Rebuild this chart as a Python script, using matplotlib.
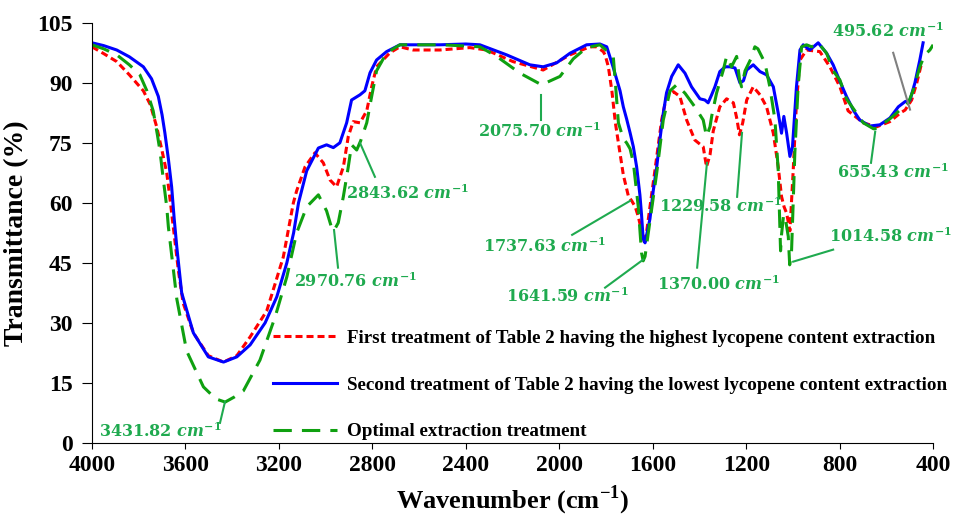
import matplotlib.pyplot as plt

plt.rcParams['mathtext.fontset'] = 'custom'
plt.rcParams['mathtext.it'] = 'DejaVu Serif:italic:bold'
plt.rcParams['mathtext.rm'] = 'DejaVu Serif:bold'

# First treatment (red, short dashes)
wn_first = [4000, 3950, 3894, 3840, 3780, 3750, 3723, 3700, 3680, 3666, 3652, 3630, 3610, 3566,
            3502, 3437, 3380, 3323, 3252, 3215, 3181, 3138, 3124, 3088, 3046, 3010, 2981, 2953,
            2924, 2903, 2882, 2853, 2824, 2803, 2782, 2725, 2682, 2626, 2511, 2383, 2311, 2198,
            2069, 1954, 1869, 1840, 1812, 1804, 1790, 1775, 1760, 1747, 1726, 1704, 1690, 1675,
            1662, 1648, 1638, 1628, 1612, 1591, 1562, 1541, 1512, 1484, 1455, 1420, 1384, 1370,
            1355, 1341, 1313, 1284, 1255, 1240, 1229, 1215, 1198, 1170, 1141, 1113, 1084, 1063,
            1049, 1038, 1027, 1013, 999, 985, 970, 942, 885, 842, 799, 764, 699, 642, 585, 542,
            520, 492, 470, 449]
t_first = [99, 97.3, 95.3, 92, 88, 84.5, 79, 73, 67.5, 61, 54, 43, 35, 27.5,
           21.8, 20.2, 21.8, 26.5, 33, 40, 46.5, 60, 63, 69, 72.5, 70, 65.7, 64,
           69, 76.6, 80.3, 80, 83, 89, 94, 97.5, 99, 98.2, 98.2, 98.8, 98.2, 95.3,
           93.2, 97, 99, 99, 97.8, 97, 94, 88, 80, 75, 67, 61.6, 60.5, 59,
           56.6, 53, 50.5, 52, 59, 68, 80.7, 86.6, 87.8, 86.6, 80.7, 75.7, 74, 69,
           72, 78, 84, 86, 85, 81, 77, 80, 85.7, 89, 87, 84, 77.4, 69,
           61.6, 59, 57.4, 53, 68, 85, 95.7, 98.2, 97.8, 94, 89, 83, 80, 79, 80.3, 82.4,
           83.2, 85.7, 90, 95]

# Second treatment (blue, solid)
wn_second = [4000, 3950, 3894, 3840, 3780, 3745, 3716, 3700, 3688, 3673, 3659, 3648, 3637, 3616,
             3566, 3502, 3437, 3380, 3323, 3259, 3209, 3166, 3137, 3116, 3081, 3031, 2996, 2967,
             2939, 2910, 2889, 2853, 2832, 2810, 2782, 2739, 2682, 2596, 2511, 2400, 2340, 2226,
             2126, 2069, 2011, 1954, 1883, 1826, 1797, 1770, 1755, 1740, 1726, 1712, 1697, 1683,
             1669, 1655, 1648, 1641, 1633, 1626, 1612, 1598, 1583, 1569, 1555, 1541, 1519, 1491,
             1462, 1434, 1398, 1377, 1363, 1348, 1334, 1313, 1290, 1270, 1248, 1227, 1212, 1198,
             1170, 1141, 1113, 1084, 1063, 1049, 1039, 1027, 1013, 1002, 985, 970, 956, 928, 892,
             856, 828, 800, 771, 740, 714, 671, 628, 585, 549, 520, 499, 478, 457, 443]
t_second = [100, 99.3, 98.2, 96.5, 94, 91, 86.6, 82, 77.5, 71, 64, 56, 49, 37.5,
            27.5, 21.5, 20.2, 21.5, 24.5, 30, 36.5, 45, 52.5, 60, 68, 73.7, 74.5, 73.8,
            75, 80, 85.7, 87, 88, 92.5, 95.7, 97.8, 99.5, 99.5, 99.5, 99.7, 99.5, 97,
            94.5, 94, 95, 97.4, 99.5, 99.7, 99, 94, 91, 88, 84, 81, 77.5, 74,
            69, 62, 57, 51, 50, 52, 56, 63, 69, 76, 82.4, 87.5, 91.6, 94.5,
            92.4, 89, 86, 85.7, 85, 87, 89, 92.8, 94, 94, 93.7, 90, 90.5, 93.2,
            94.5, 92.8, 92, 89, 82.4, 77.4, 81.6, 77.4, 71.6, 74, 89, 98.2, 99.5, 98.2, 100,
            97.4, 94.5, 90.5, 86.6, 83, 80.7, 79.2, 79.5, 81.2, 84, 85.3, 85.7, 90, 95.7, 100]

# Optimal extraction treatment (green, long dashes)
wn_opt = [4000, 3950, 3894, 3840, 3795, 3765, 3738, 3720, 3709, 3695, 3680, 3673, 3655, 3637,
          3595, 3523, 3470, 3430, 3390, 3352, 3281, 3216, 3166, 3124, 3081, 3031, 2996, 2974,
          2965, 2946, 2924, 2903, 2889, 2867, 2850, 2824, 2803, 2782, 2739, 2682, 2500, 2340,
          2268, 2168, 2076, 1997, 1940, 1883, 1826, 1769, 1760, 1747, 1726, 1712, 1697, 1683,
          1662, 1648, 1641, 1633, 1619, 1583, 1555, 1526, 1498, 1462, 1420, 1384, 1370, 1355,
          1348, 1327, 1298, 1284, 1263, 1241, 1229, 1220, 1205, 1180, 1163, 1150, 1120, 1099,
          1077, 1063, 1053, 1049, 1040, 1034, 1020, 1014, 1006, 999, 992, 978, 963, 942, 920,
          892, 856, 828, 799, 771, 699, 655, 642, 585, 542, 506, 485, 457, 436, 414, 400]
t_opt = [99.5, 98.5, 97, 94.5, 92, 88, 83, 77, 73, 66, 59, 54, 45, 36,
         23, 14, 11, 10.2, 11.5, 13, 20.7, 31.5, 41.5, 52.5, 59, 62, 58, 53.7,
         53, 55, 61.6, 69, 74.5, 73.2, 75.5, 80, 86.6, 93, 97.5, 99.5, 99.5, 99,
         96.6, 92.4, 89.5, 91.6, 96, 98.8, 99.5, 96.6, 90, 80, 76, 75, 73.5, 70,
         59, 47.5, 45.5, 46.6, 52.5, 67.5, 80.7, 88, 89.5, 87.4, 84, 80.7, 76.6, 79,
         81.6, 87.4, 93.2, 96.6, 94, 96.6, 91, 89, 93, 96, 99, 98.5, 95, 89,
         80.7, 68, 48, 52, 57, 56.6, 51.6, 44.5, 48, 60, 72.4, 89, 99, 99.5, 99,
         100, 97.4, 93, 90.7, 86, 80, 78.5, 78.6, 81, 83.2, 85, 88.2, 94, 97, 98.2, 99.5]

labels = ["First treatment of Table 2 having the highest lycopene content extraction",
          "Second treatment of Table 2 having the lowest lycopene content extraction",
          "Optimal extraction treatment"]

# peak labels: text, text position, line start, line end
peaks = [("3431.82", 3709, 2.75, 3431, 10.2, 3452, 5.0),
         ("2970.76", 2874, 40.25, 2964, 53.2, 2947, 43.8),
         ("2843.62", 2647, 62.25, 2853, 75.0, 2789, 66.5),
         ("2075.70", 2082, 77.75, 2080, 87.0, 2080, 80.8),
         ("1737.63", 2061, 49.0, 1945, 52.0, 1697, 60.5),
         ("1641.59", 1967, 36.5, 1804, 38.8, 1641, 45.8),
         ("1370.00", 1316, 39.5, 1410, 43.8, 1368, 70.0),
         ("1229.58", 1312, 59.0, 1239, 61.5, 1218, 77.5),
         ("1014.58", 584, 51.5, 999, 45.3, 828, 48.3),
         ("655.43", 571, 67.5, 666, 70.0, 648, 77.8),
         ("495.62", 593, 102.75, 571, 97.5, 499, 83.3)]

ann_green = "#1FAA4F"

fig = plt.figure(figsize=(9.68, 5.18), dpi=100)
ax = fig.add_axes([0.095, 0.145, 0.869, 0.811])

ax.plot(wn_first, t_first, color="#FF0000", lw=2.2, dashes=(2.3, 1.3), label=labels[0])
ax.plot(wn_second, t_second, color="#0000FF", lw=2.2, label=labels[1])
ax.plot(wn_opt, t_opt, color="#0FA010", lw=2.2, dashes=(6, 3.3), label=labels[2])

for name, tx, ty, x1, y1, x2, y2 in peaks:
    lc = "gray" if name == "495.62" else ann_green
    ax.plot([x1, x2], [y1, y2], color=lc, lw=1.5)
    ax.text(tx, ty, name + r" $cm^{-1}$", color=ann_green, fontsize=11.5,
            family="DejaVu Serif", fontweight="bold", ha="center", va="center")

ax.set_xlim(4000, 400)
ax.set_ylim(0, 105)
ax.set_xticks([4000, 3600, 3200, 2800, 2400, 2000, 1600, 1200, 800, 400])
ax.set_yticks(range(0, 106, 15))
ax.spines["top"].set_visible(False)
ax.spines["right"].set_visible(False)
ax.tick_params(axis="y", direction="out", length=7, pad=7, labelsize=17)
ax.tick_params(axis="x", direction="out", length=4, pad=5, labelsize=17)
for lab in ax.get_xticklabels() + ax.get_yticklabels():
    lab.set_family("Liberation Serif")
    lab.set_fontweight("bold")

ax.set_xlabel(r"Wavenumber (cm$^{\mathregular{-1}}$)", family="Liberation Serif",
              fontweight="bold", fontsize=19, labelpad=6)
ax.set_ylabel("Transmittance (%)", family="Liberation Serif", fontweight="bold",
              fontsize=20, labelpad=6)

ax.legend(loc="lower left", bbox_to_anchor=(0.195, -0.035), frameon=False,
          prop={"family": "Liberation Serif", "weight": "bold", "size": 13.7},
          handlelength=3.35, labelspacing=1.55, handletextpad=0.55)

plt.savefig("out.png")
